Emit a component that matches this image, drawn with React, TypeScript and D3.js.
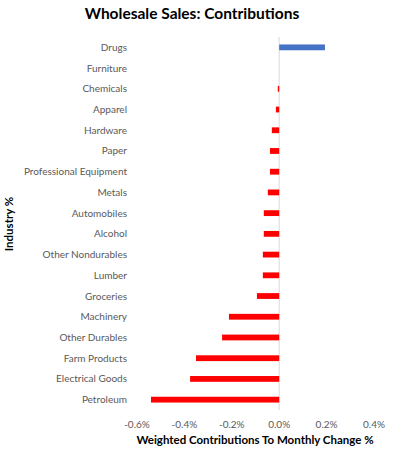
import React from "react";
import * as d3 from "d3";

const categories = [
  "Drugs", "Furniture", "Chemicals", "Apparel", "Hardware", "Paper",
  "Professional Equipment", "Metals", "Automobiles", "Alcohol",
  "Other Nondurables", "Lumber", "Groceries", "Machinery", "Other Durables",
  "Farm Products", "Electrical Goods", "Petroleum",
];
const values = [
  0.193, 0, -0.006, -0.014, -0.031, -0.039, -0.039, -0.048, -0.065, -0.065,
  -0.069, -0.069, -0.094, -0.212, -0.241, -0.351, -0.376, -0.541,
];
const xTicks = [-0.6, -0.4, -0.2, 0, 0.2, 0.4];

const W = 394, H = 453;
const font = "Lato, 'Open Sans', sans-serif";

export default function App() {
  const x = d3.scaleLinear().domain([-0.6, 0.4]).range([137, 374]);
  const y = d3.scaleBand<string>().domain(categories).range([37, 410]).paddingInner(0.72).paddingOuter(0.36);
  const fmt = (t: number) => d3.format(".1f")(t).replace("\u2212", "-") + "%";
  return (
    <svg width={W} height={H} style={{ position: "absolute", left: 0, top: 0 }} fontFamily={font}>
      <rect width={W} height={H} fill="#fff" />
      <text x={192} y={19} textAnchor="middle" fontSize={15.5} fontWeight="bold" fill="#000">
        Wholesale Sales: Contributions
      </text>
      <line x1={x(0)} x2={x(0)} y1={37} y2={410} stroke="#d9d9d9" strokeWidth={1} />
      {categories.map((c, i) => {
        const v = values[i];
        const x0 = x(Math.min(0, v));
        const w = Math.abs(x(v) - x(0));
        return (
          <g key={c}>
            <rect x={x0} y={y(c)!} width={w} height={y.bandwidth()} fill={v >= 0 ? "#4472C4" : "#FF0000"} />
            <text x={127} y={y(c)! + y.bandwidth() / 2} dy="0.35em" textAnchor="end" fontSize={10} fill="#595959">
              {c}
            </text>
          </g>
        );
      })}
      {xTicks.map((t) => (
        <text key={t} x={x(t)} y={428} textAnchor="middle" fontSize={10} fill="#595959">
          {fmt(t)}
        </text>
      ))}
      <text x={255} y={444} textAnchor="middle" fontSize={11.5} fontWeight="bold" fill="#000">
        Weighted Contributions To Monthly Change %
      </text>
      <text transform={`translate(13,224) rotate(-90)`} textAnchor="middle" fontSize={11.5} fontWeight="bold" fill="#000">
        Industry %
      </text>
    </svg>
  );
}
